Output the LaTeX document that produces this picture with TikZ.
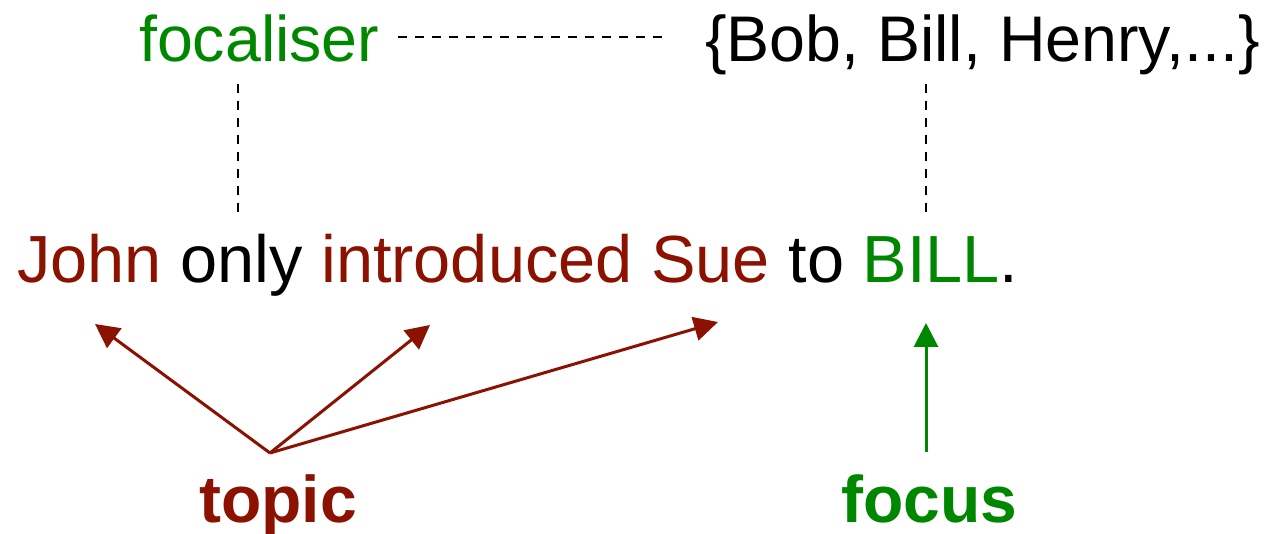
\documentclass[tikz,border=0pt]{standalone}
\usepackage{fontspec}
\setmainfont{Liberation Sans}
\usetikzlibrary{arrows.meta}
\definecolor{topicred}{RGB}{139,17,0}
\definecolor{focusgreen}{RGB}{0,135,0}
\tikzset{
  word/.style={anchor=base west, inner sep=0pt, font=\fontsize{66}{79}\selectfont},
  topword/.style={anchor=base west, inner sep=0pt, font=\fontsize{64.5}{77}\selectfont},
  mainword/.style={anchor=base west, inner sep=0pt, font=\fontsize{66.7}{80}\selectfont},
  boldword/.style={word, font=\fontsize{66}{79}\selectfont\bfseries},
  dashline/.style={draw=black, line width=2pt, dash pattern=on 9pt off 8pt},
  topicarrow/.style={draw=topicred, line width=3pt, -{Triangle[length=24pt,width=24pt]}},
  focusarrow/.style={draw=focusgreen, line width=3pt, -{Triangle[length=24pt,width=24pt]}}
}
\begin{document}
\begin{tikzpicture}[x=1pt,y=-1pt]
\useasboundingbox (0,0) rectangle (1267,534);
% texts
\node[topword, text=focusgreen] (focaliser) at (139,62) {focaliser};
\node[topword] (set) at (705,62) {\{Bob, Bill, Henry,...\}};
\node[mainword] (sentence) at (17,283) {\textcolor{topicred}{John} only \textcolor{topicred}{introduced Sue} to \textcolor{focusgreen}{BILL}.};
\node[boldword, text=topicred] (topic) at (199,522) {topic};
\node[boldword, text=focusgreen] (focus) at (841,522) {focus};
% dashed links
\coordinate (hA) at (398,37);
\coordinate (hB) at (668,37);
\coordinate (vLa) at (238,84);
\coordinate (vLb) at (238,212);
\coordinate (vRa) at (926,84);
\coordinate (vRb) at (926,212);
\draw[dashline] (hA) -- (hB);
\draw[dashline] (vLa) -- (vLb);
\draw[dashline] (vRa) -- (vRb);
% arrows
\coordinate (torig) at (270,453);
\coordinate (tJohn) at (95,324);
\coordinate (tintro) at (430,325);
\coordinate (tSue) at (718,322);
\coordinate (forig) at (926,452);
\coordinate (fBill) at (926,323);
\draw[topicarrow] (torig) -- (tJohn);
\draw[topicarrow] (torig) -- (tintro);
\draw[topicarrow] (torig) -- (tSue);
\draw[focusarrow] (forig) -- (fBill);
\end{tikzpicture}
\end{document}
